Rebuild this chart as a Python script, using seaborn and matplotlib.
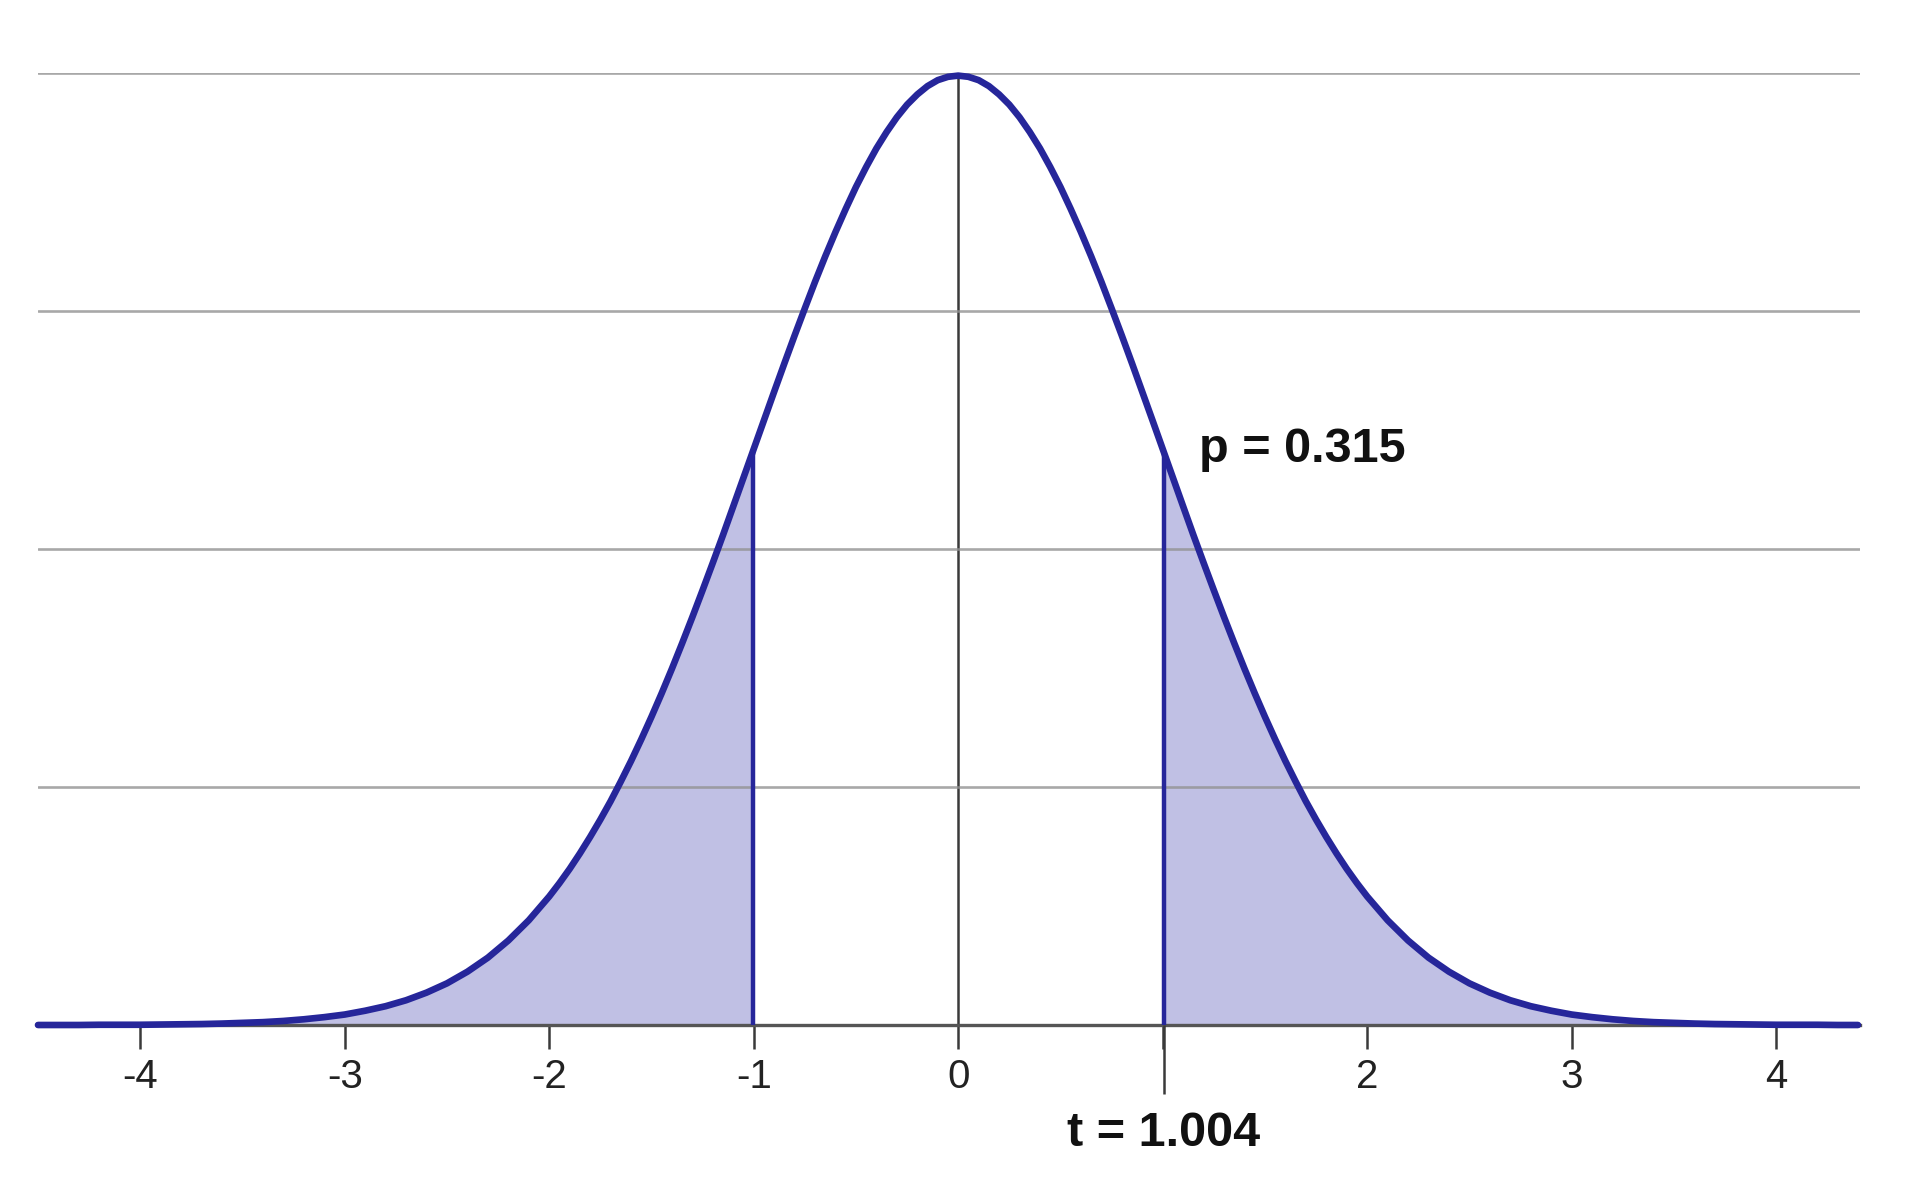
import numpy as np
import pandas as pd
import matplotlib.pyplot as plt
import seaborn as sns

# test result shown on the chart
t_stat = 1.004
p_value = 0.315
t_height = 0.241  # curve height where the cut-off lines meet it

# density curve, t = -4.5 .. 4.4 in steps of 0.1
t_grid = np.round(np.arange(-4.5, 4.45, 0.1), 1)
density = [
    0.0000, 0.0000, 0.0000, 0.0001, 0.0001, 0.0001, 0.0002, 0.0003, 0.0004, 0.0006,
    0.0009, 0.0012, 0.0017, 0.0024, 0.0033, 0.0044, 0.0060, 0.0079, 0.0104, 0.0136,
    0.0175, 0.0224, 0.0283, 0.0355, 0.0440, 0.0540, 0.0656, 0.0790, 0.0940, 0.1109,
    0.1295, 0.1497, 0.1714, 0.1942, 0.2179, 0.2420, 0.2661, 0.2897, 0.3123, 0.3332,
    0.3521, 0.3683, 0.3814, 0.3910, 0.3970, 0.3989, 0.3970, 0.3910, 0.3814, 0.3683,
    0.3521, 0.3332, 0.3123, 0.2897, 0.2661, 0.2420, 0.2179, 0.1942, 0.1714, 0.1497,
    0.1295, 0.1109, 0.0940, 0.0790, 0.0656, 0.0540, 0.0440, 0.0355, 0.0283, 0.0224,
    0.0175, 0.0136, 0.0104, 0.0079, 0.0060, 0.0044, 0.0033, 0.0024, 0.0017, 0.0012,
    0.0009, 0.0006, 0.0004, 0.0003, 0.0002, 0.0001, 0.0001, 0.0001, 0.0000, 0.0000,
]

# extra readings in between, t = -1.95 .. 1.95 in steps of 0.1 (the steep middle part)
t_mid = np.round(np.arange(-1.95, 2.0, 0.1), 2)
density_mid = [
    0.0596, 0.0721, 0.0863, 0.1023, 0.1200, 0.1394, 0.1604, 0.1827, 0.2059, 0.2299,
    0.2541, 0.2780, 0.3011, 0.3230, 0.3429, 0.3605, 0.3752, 0.3867, 0.3945, 0.3984,
    0.3984, 0.3945, 0.3867, 0.3752, 0.3605, 0.3429, 0.3230, 0.3011, 0.2780, 0.2541,
    0.2299, 0.2059, 0.1827, 0.1604, 0.1394, 0.1200, 0.1023, 0.0863, 0.0721, 0.0596,
]

tick_values = [-4, -3, -2, -1, 0, 1, 2, 3, 4]
tick_labels = ['-4', '-3', '-2', '-1', '0', '', '2', '3', '4']
grid_levels = [0.1, 0.2, 0.3, 0.4]

df = pd.concat([
    pd.DataFrame({'t': t_grid, 'density': density}),
    pd.DataFrame({'t': t_mid, 'density': density_mid}),
    pd.DataFrame({'t': [-t_stat, t_stat], 'density': [t_height, t_height]}),
]).sort_values('t').reset_index(drop=True)

navy = '#26269a'
fill_col = '#c0c0e4'

sns.set_style('white')
plt.rcParams['font.family'] = ['Liberation Sans', 'DejaVu Sans']

fig = plt.figure(figsize=(19.05, 11.88), dpi=100)
ax = fig.add_axes([38 / 1905, 163 / 1188, 1822 / 1905, 952 / 1188])

# shaded tails
left = df[df['t'] <= -t_stat]
right = df[df['t'] >= t_stat]
ax.fill_between(left['t'], 0, left['density'], color=fill_col, lw=0, zorder=1)
ax.fill_between(right['t'], 0, right['density'], color=fill_col, lw=0, zorder=1)

for g in grid_levels:
    ax.axhline(g, color='#929292', lw=1.9, alpha=0.8, zorder=3)

ax.vlines(0, 0, df['density'].max(), color='#3a3a3a', lw=1.8, zorder=2)
ax.vlines([-t_stat, t_stat], 0, t_height, color=navy, lw=3.2, zorder=4)

sns.lineplot(data=df, x='t', y='density', color=navy, lw=4.8, ax=ax,
             estimator=None, zorder=5, clip_on=False, solid_joinstyle='round')

# longer tick under the t value
ax.vlines(t_stat, -0.029, 0, color='#3a3a3a', lw=1.8, clip_on=False, zorder=4)

ax.set_xlim(-4.5, 4.41)
ax.set_ylim(0, 0.4)
ax.set_xticks(tick_values, tick_labels)
ax.set_yticks([])
ax.set_xlabel('')
ax.set_ylabel('')
ax.tick_params(axis='x', length=17, width=1.8, color='#3a3a3a', pad=7,
               labelsize=29, labelcolor='#222222', bottom=True)
for s in ['left', 'right', 'top']:
    ax.spines[s].set_visible(False)
ax.spines['bottom'].set_color('#555555')
ax.spines['bottom'].set_linewidth(2.4)

ax.text(1.178, 0.2366, f'p = {p_value}', fontsize=35, fontweight='bold',
        ha='left', va='baseline', color='#111111')
ax.text(t_stat, -0.0508, f't = {t_stat}', fontsize=35, fontweight='bold',
        ha='center', va='baseline', color='#111111')

fig.savefig('out.png', dpi=100)
